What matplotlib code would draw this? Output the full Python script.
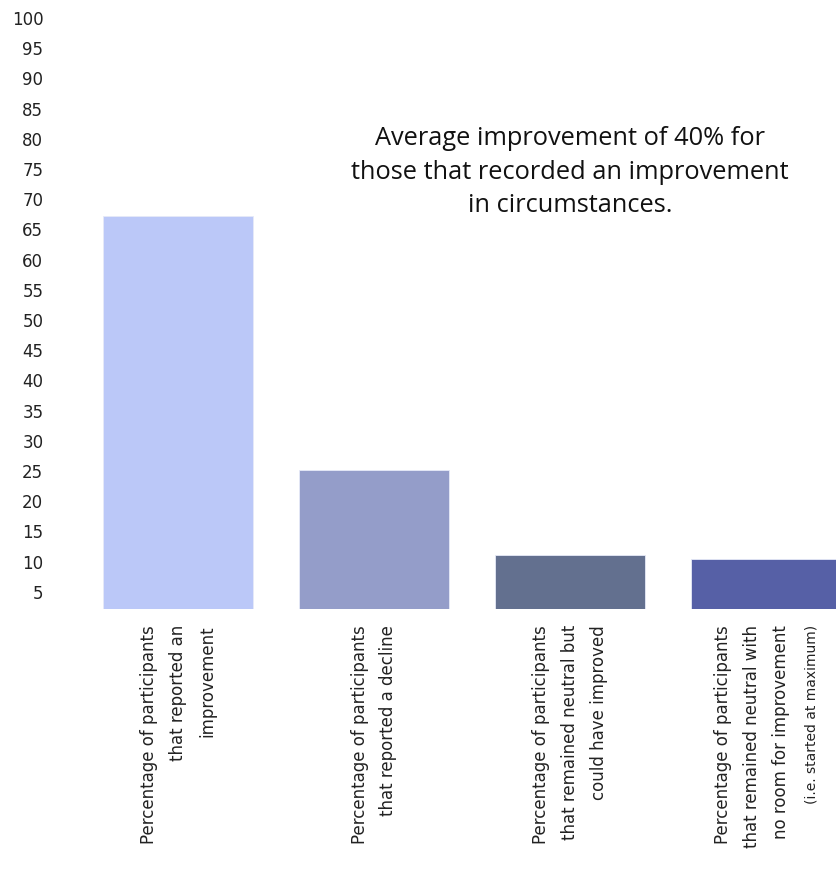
import matplotlib
matplotlib.use("Agg")
import matplotlib.pyplot as plt

categories = [
    "Percentage of participants\nthat reported an\nimprovement",
    "Percentage of participants\nthat reported a decline",
    "Percentage of participants\nthat remained neutral but\ncould have improved",
    "Percentage of participants\nthat remained neutral with\nno room for improvement",
]
category_note = "(i.e. started at maximum)"
values = [67.2, 25.2, 11.1, 10.4]
colors = ["#BBC8F8", "#949DC9", "#63708F", "#5660A6"]
yticks = list(range(5, 101, 5))
annotation = "Average improvement of 40% for\nthose that recorded an improvement\nin circumstances."

W, H = 837, 888
fig = plt.figure(figsize=(W / 100, H / 100), dpi=100)
ax_left, ax_right, ax_top, ax_bottom = 60, 837, 12, 609
ax = fig.add_axes([ax_left / W, 1 - ax_bottom / H, (ax_right - ax_left) / W, (ax_bottom - ax_top) / H])

x = list(range(len(values)))
ax.bar(x, values, width=0.765, color=colors, edgecolor="#E6EAF8", linewidth=0.6)

ax.set_xlim(-0.602, 3.362)
ax.set_ylim(2.15, 101)
ax.set_yticks(yticks)
ax.set_yticklabels([str(t) for t in yticks], fontsize=12, color="#222222")
ax.tick_params(axis="y", length=0, pad=12)
for s in ax.spines.values():
    s.set_visible(False)

ax.set_xticks([])
text_kw = dict(rotation=90, ha="center", va="top", multialignment="right",
               fontsize=12, color="#222222", family="DejaVu Sans",
               linespacing=1.78)
offsets = [0, 0, 0, -10]
for i, lab in enumerate(categories):
    ax.annotate(lab, xy=(i, 0), xycoords=("data", "axes fraction"),
                xytext=(offsets[i], -11.5), textcoords="offset points", **text_kw)
ax.annotate(category_note, xy=(3, 0), xycoords=("data", "axes fraction"),
            xytext=(33, -11.5), textcoords="offset points",
            rotation=90, ha="center", va="top", fontsize=10, color="#222222",
            family="DejaVu Sans")

ax.text(2.0, 74.5, annotation, ha="center", va="center", fontsize=18.3,
        family="Open Sans", color="#111111", linespacing=1.45)

fig.savefig("out.png", dpi=100)
